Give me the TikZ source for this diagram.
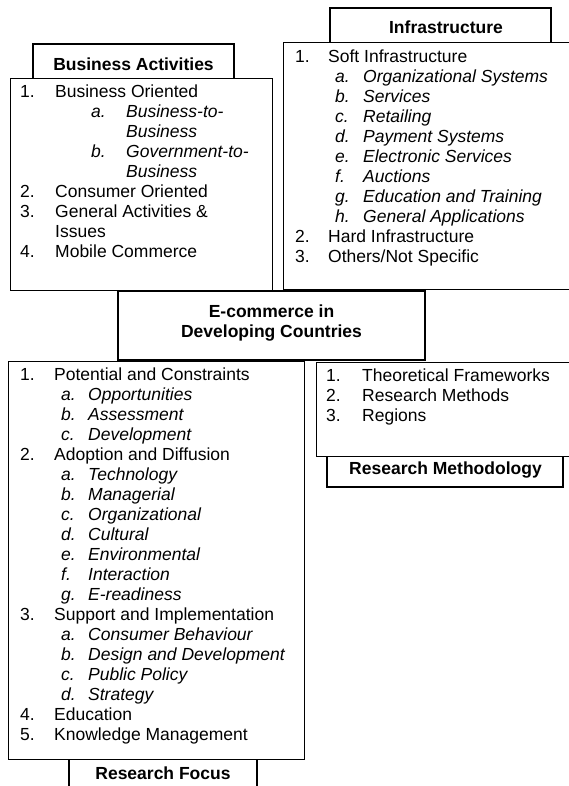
\documentclass[tikz,border=0pt]{standalone}
\usepackage{fontspec}
\setmainfont{Liberation Sans}
\newlength\numw
\newlength\letin
\newlength\letw
% numbered item and lettered (italic) sub-item
\newcommand\lvA[2]{\makebox[\numw][l]{#1}#2}
\newcommand\lvB[2]{\hspace*{\letin}\makebox[\letw][l]{\itshape #1}\textit{#2}}
\tikzset{
  thinbox/.style={draw, line width=1pt, fill=white, inner sep=0pt},
  thickbox/.style={draw, line width=2pt, fill=white, inner sep=0pt},
  head/.style={font=\fontsize{17.5}{20}\selectfont\bfseries, inner sep=0pt, anchor=base, align=center},
  listtxt/.style={font=\fontsize{17.5}{20}\selectfont, inner sep=0pt, anchor=base west},
}
\begin{document}
\begin{tikzpicture}[x=1pt, y=-1pt]
\useasboundingbox (0,0) rectangle (569,786);
\clip (0,0) rectangle (569,786);

% Business Activities
\node[thickbox, minimum width=201pt, minimum height=35pt] (bizT) at (133.5,61.5) {};
\node[thinbox, minimum width=262pt, minimum height=211pt] (biz) at (141,184.5) {};
\node[head] (bizH) at (133.5,70.7) {Business Activities};
\node[listtxt] (bizL) at (20,98) {\setlength\numw{35pt}\setlength\letin{71pt}\setlength\letw{35pt}%
\begin{tabular}[t]{@{}l@{}}
\lvA{1.}{Business Oriented}\\
\lvB{a.}{Business-to-}\\
\lvB{}{Business}\\
\lvB{b.}{Government-to-}\\
\lvB{}{Business}\\
\lvA{2.}{Consumer Oriented}\\
\lvA{3.}{General Activities \&}\\
\lvA{}{Issues}\\
\lvA{4.}{Mobile Commerce}
\end{tabular}};

% Infrastructure
\node[thickbox, minimum width=221pt, minimum height=35pt] (infT) at (440.5,25.5) {};
\node[thinbox, minimum width=292pt, minimum height=246pt] (inf) at (429,166) {};
\node[head] (infH) at (446,34) {Infrastructure};
\node[listtxt] (infL) at (295,63) {\setlength\numw{33pt}\setlength\letin{40pt}\setlength\letw{28pt}%
\begin{tabular}[t]{@{}l@{}}
\lvA{1.}{Soft Infrastructure}\\
\lvB{a.}{Organizational Systems}\\
\lvB{b.}{Services}\\
\lvB{c.}{Retailing}\\
\lvB{d.}{Payment Systems}\\
\lvB{e.}{Electronic Services}\\
\lvB{f.}{Auctions}\\
\lvB{g.}{Education and Training}\\
\lvB{h.}{General Applications}\\
\lvA{2.}{Hard Infrastructure}\\
\lvA{3.}{Others/Not Specific}
\end{tabular}};

% Research Focus
\node[thickbox, minimum width=188pt, minimum height=41pt] (rfT) at (163,779.5) {};
\node[thinbox, minimum width=296pt, minimum height=398pt] (rf) at (156,560) {};
\node[head] (rfH) at (163,779) {Research Focus};
\node[listtxt] (rfL) at (20,380) {\setlength\numw{34pt}\setlength\letin{41pt}\setlength\letw{27pt}%
\begin{tabular}[t]{@{}l@{}}
\lvA{1.}{Potential and Constraints}\\
\lvB{a.}{Opportunities}\\
\lvB{b.}{Assessment}\\
\lvB{c.}{Development}\\
\lvA{2.}{Adoption and Diffusion}\\
\lvB{a.}{Technology}\\
\lvB{b.}{Managerial}\\
\lvB{c.}{Organizational}\\
\lvB{d.}{Cultural}\\
\lvB{e.}{Environmental}\\
\lvB{f.}{Interaction}\\
\lvB{g.}{E-readiness}\\
\lvA{3.}{Support and Implementation}\\
\lvB{a.}{Consumer Behaviour}\\
\lvB{b.}{Design and Development}\\
\lvB{c.}{Public Policy}\\
\lvB{d.}{Strategy}\\
\lvA{4.}{Education}\\
\lvA{5.}{Knowledge Management}
\end{tabular}};

% Research Methodology
\node[thickbox, minimum width=236pt, minimum height=31pt] (rmT) at (445,471.5) {};
\node[thinbox, minimum width=259pt, minimum height=94pt] (rm) at (445.5,409) {};
\node[head] (rmH) at (445.5,474) {Research Methodology};
\node[listtxt] (rmL) at (326,381) {\setlength\numw{36pt}%
\begin{tabular}[t]{@{}l@{}}
\lvA{1.}{Theoretical Frameworks}\\
\lvA{2.}{Research Methods}\\
\lvA{3.}{Regions}
\end{tabular}};

% central topic
\node[thickbox, minimum width=307pt, minimum height=69pt] (core) at (271.5,325.5) {};
\node[head] (coreH1) at (271.5,317) {E-commerce in};
\node[head] (coreH2) at (271.5,337) {Developing Countries};
\end{tikzpicture}
\end{document}
